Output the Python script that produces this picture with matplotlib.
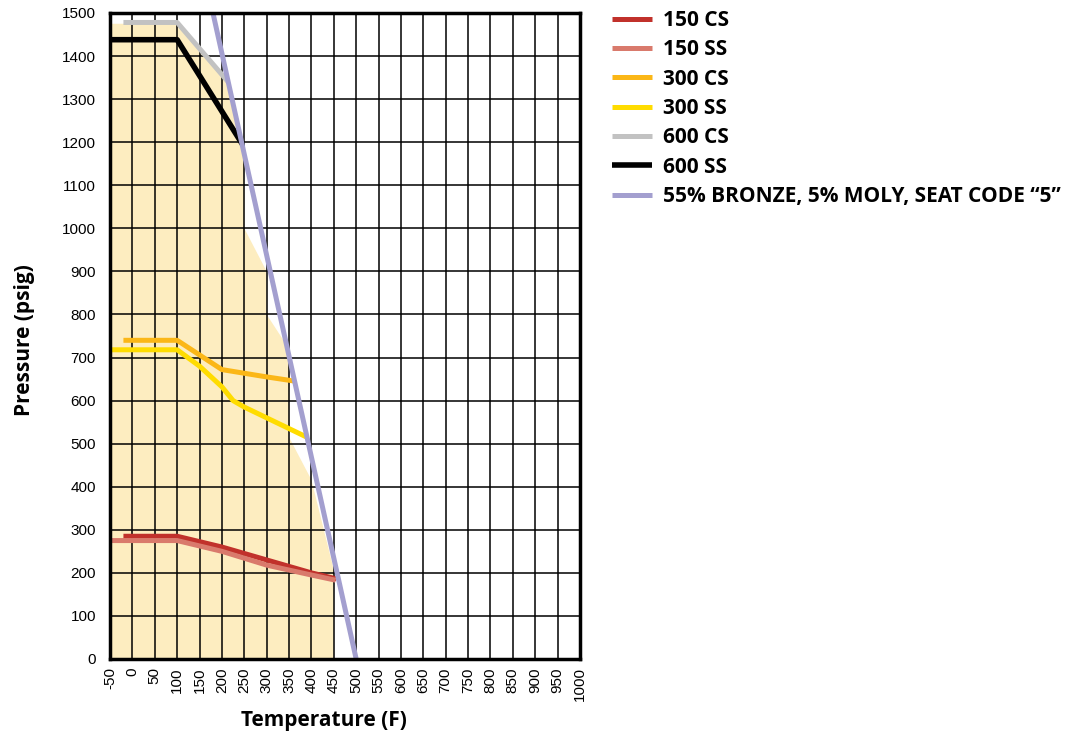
import matplotlib
matplotlib.use('Agg')
import matplotlib.pyplot as plt

# temperature (F) / pressure (psig)
t_150cs = [-20, 100, 200, 300, 400, 456]
p_150cs = [285, 285, 260, 230, 200, 186]
t_150ss = [-50, 100, 200, 300, 400, 454]
p_150ss = [275, 275, 250, 218, 195, 183]
t_300cs = [-20, 100, 200, 300, 364]
p_300cs = [740, 740, 672, 655, 645]
t_300ss = [-50, 100, 150, 200, 225, 250, 300, 390]
p_300ss = [718, 718, 680, 632, 600, 585, 560, 515]
t_600cs = [-20, 100, 214]
p_600cs = [1478, 1478, 1340]
t_600ss = [-50, 100, 246]
p_600ss = [1438, 1438, 1195]
t_bronze = [180, 500]
p_bronze = [1500, 0]

# shaded region (stepped outline)
t_fill = [-50, -50, 100, 214, 246, 250, 250, 300, 300, 350, 350, 400, 450, 450]
p_fill = [0, 1475, 1475, 1340, 1195, 1195, 1000, 900, 800, 720, 515, 416, 207, 0]

xticks = list(range(-50, 1001, 50))
yticks = list(range(0, 1501, 100))

fig = plt.figure(figsize=(10.83, 7.38), dpi=100)
ax = fig.add_axes([110/1083, 1-659/738, 470/1083, 646/738])

ax.fill(t_fill, p_fill, color='#fdedc0', lw=0, zorder=1)
ax.grid(True, color='black', lw=1.1, zorder=2)
ax.set_axisbelow(False)

lw = 3.6
l1, = ax.plot(t_150cs, p_150cs, color='#c1312b', lw=lw, zorder=3, solid_capstyle='butt')
l2, = ax.plot(t_150ss, p_150ss, color='#d97a6c', lw=lw, zorder=3, solid_capstyle='butt')
l3, = ax.plot(t_300cs, p_300cs, color='#fbb717', lw=lw, zorder=3, solid_capstyle='butt')
l4, = ax.plot(t_300ss, p_300ss, color='#ffdc00', lw=lw, zorder=3, solid_capstyle='butt')
l5, = ax.plot(t_600cs, p_600cs, color='#c2c2c2', lw=lw, zorder=3, solid_capstyle='butt')
l6, = ax.plot(t_600ss, p_600ss, color='black', lw=4, zorder=3, solid_capstyle='butt')
l7, = ax.plot(t_bronze, p_bronze, color='#a39fcf', lw=lw, zorder=4, solid_capstyle='butt')

ax.set_xlim(-50, 1000)
ax.set_ylim(0, 1500)
ax.set_xticks(xticks)
ax.set_yticks(yticks)
ax.set_xticklabels([str(v) for v in xticks], rotation=90, fontsize=11, family='Liberation Sans')
ax.set_yticklabels([str(v) for v in yticks], fontsize=11, family='Liberation Sans')
ax.tick_params(axis='y', length=0, pad=10)
ax.tick_params(axis='x', length=0, pad=6)
for s in ax.spines.values():
    s.set_linewidth(2.5)
    s.set_zorder(5)

ax.set_xlabel('Temperature (F)', fontsize=15, fontweight='bold', family='Open Sans')
ax.set_ylabel('Pressure (psig)', fontsize=15, fontweight='bold', family='Open Sans')
ax.xaxis.set_label_coords(0.455, -0.079)
ax.yaxis.set_label_coords(-0.16, 0.494)

labels = ['150 CS', '150 SS', '300 CS', '300 SS', '600 CS', '600 SS',
          '55% BRONZE, 5% MOLY, SEAT CODE \u201c5\u201d']
leg = fig.legend([l1, l2, l3, l4, l5, l6, l7], labels, loc='upper left',
                 bbox_to_anchor=(612/1083, 1-10/738), frameon=False,
                 borderpad=0, borderaxespad=0,
                 handlelength=1.92, handletextpad=0.53, labelspacing=0.4,
                 prop={'family': 'Open Sans', 'weight': 'bold', 'size': 15})

fig.savefig('out.png', dpi=100)
